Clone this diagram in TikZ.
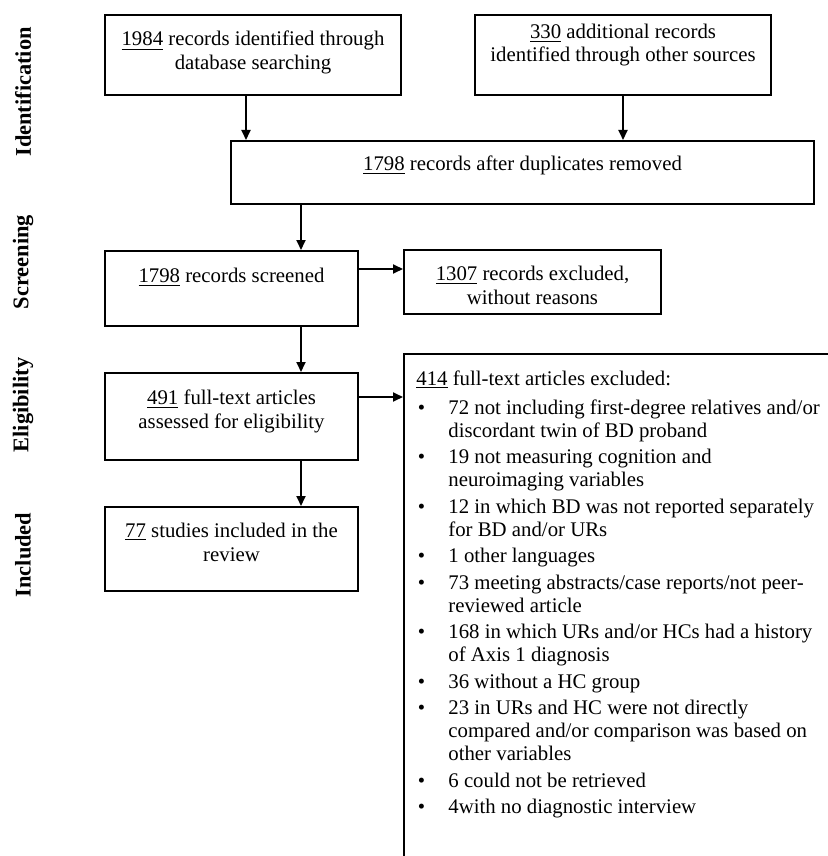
\documentclass[tikz,border=0pt]{standalone}
\usepackage{fontspec}
\setmainfont{Liberation Serif}
\usetikzlibrary{calc,arrows.meta}

\newcommand{\exbul}{\makebox[5pt][c]{\textbullet}\hspace{11pt}}
\newcommand{\exind}{\hspace*{16pt}}

\begin{document}
\begin{tikzpicture}[x=0.5pt,y=-0.5pt,
  box/.style={draw=black,line width=1pt,inner xsep=0pt,inner ysep=0pt,
    align=center,anchor=north west,font=\fontsize{10.4}{12}\selectfont},
  arr/.style={-{Triangle[length=5pt,width=4.5pt]},line width=0.9pt},
  phase/.style={rotate=90,font=\fontsize{11.2}{13}\selectfont\bfseries}]

\useasboundingbox (0,0) rectangle (828,856);
\clip (0,0) rectangle (828,856);

% phase labels
\node [phase] (p1) at (23, 92) {Identification};
\node [phase] (p2) at (23,262) {Screening};
\node [phase] (p3) at (23,405) {Eligibility};
\node [phase] (p4) at (23,555) {Included};

% boxes
\node [box,minimum width=148pt,text height=27.5pt,text depth=12.5pt] (id1) at (104,14)
  {\underline{1984} records identified through\\database searching};
\node [box,minimum width=148pt,text height=23.5pt,text depth=16.5pt] (id2) at (474,14)
  {\underline{330} additional records\\identified through other sources};
\node [box,minimum width=291.5pt,text height=14.5pt,text depth=17pt] (dup) at (230,140)
  {\underline{1798} records after duplicates removed};
\node [box,minimum width=126.5pt,text height=15.5pt,text depth=22pt] (scr) at (104,250)
  {\underline{1798} records screened};
\node [box,minimum width=128.5pt,text height=27pt,text depth=5pt] (exc1) at (403,249)
  {\underline{1307} records excluded,\\without reasons};
\node [box,minimum width=126.5pt,text height=27.5pt,text depth=16pt] (elig) at (104,372)
  {\underline{491} full-text articles\\assessed for eligibility};
\node [box,minimum width=126.5pt,text height=27pt,text depth=15pt] (incl) at (104,506)
  {\underline{77} studies included in the\\review};
\node [box,minimum width=223.5pt,minimum height=263.5pt] (exc2) at (403,353) {};

\node [anchor=north west,inner sep=0pt,align=left,
  font=\fontsize{10.4}{11.5}\selectfont] (lst) at (416,370) {%
\underline{414} full-text articles excluded:\\[3pt]
\exbul 72 not including first-degree relatives and/or\\
\exind discordant twin of BD proband\\[1.75pt]
\exbul 19 not measuring cognition and\\
\exind neuroimaging variables\\[1.75pt]
\exbul 12 in which BD was not reported separately\\
\exind for BD and/or URs\\[1.75pt]
\exbul 1 other languages\\[1.75pt]
\exbul 73 meeting abstracts/case reports/not peer-\\
\exind reviewed article\\[1.75pt]
\exbul 168 in which URs and/or HCs had a history\\
\exind of Axis 1 diagnosis\\[1.75pt]
\exbul 36 without a HC group\\[1.75pt]
\exbul 23 in URs and HC were not directly\\
\exind compared and/or comparison was based on\\
\exind other variables\\[1.75pt]
\exbul 6 could not be retrieved\\[1.75pt]
\exbul 4with no diagnostic interview};

% arrows
\coordinate (c1) at (246,0);
\coordinate (sp) at (301,0);
\coordinate (r1) at (0,269);
\coordinate (r2) at (0,397);

\draw [arr] (id1.south -| c1) -- (dup.north -| c1);
\draw [arr] (id2.south) -- (dup.north -| id2.south);
\draw [arr] (dup.south -| sp) -- (scr.north -| sp);
\draw [arr] (scr.south -| sp) -- (elig.north -| sp);
\draw [arr] (elig.south -| sp) -- (incl.north -| sp);
\draw [arr] (scr.east |- r1) -- (exc1.west |- r1);
\draw [arr] (elig.east |- r2) -- (exc2.west |- r2);

\end{tikzpicture}
\end{document}
